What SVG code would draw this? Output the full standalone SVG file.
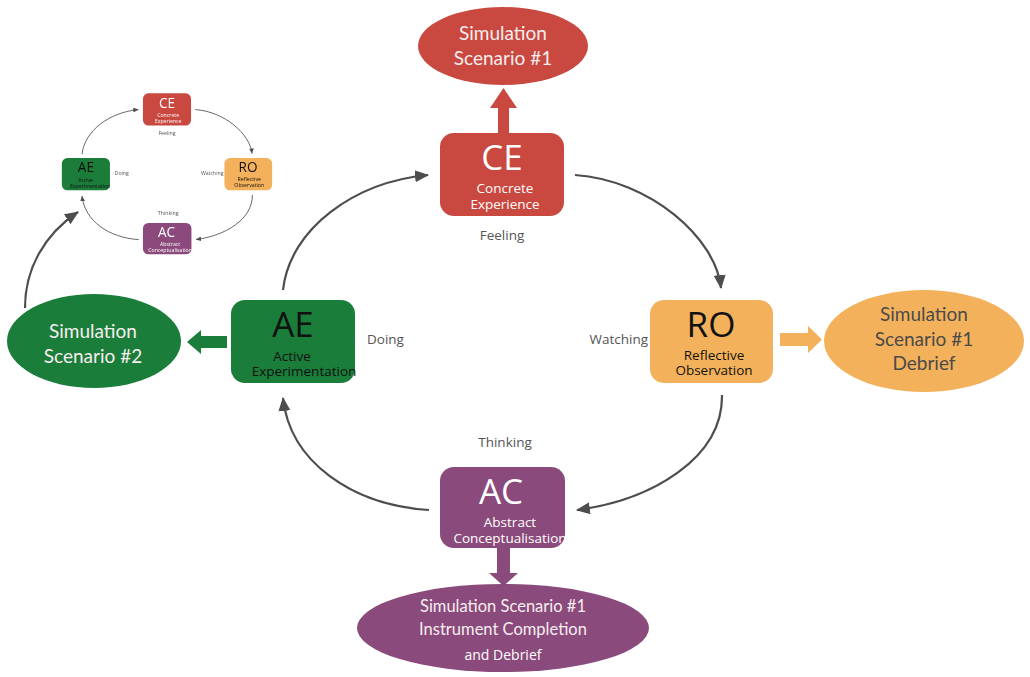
<svg xmlns="http://www.w3.org/2000/svg" xmlns:xlink="http://www.w3.org/1999/xlink" width="1030" height="677" viewBox="0 0 1030 677">
  <style>
    .box { stroke: none; }
    .ce { fill: #c9483f; }
    .ro { fill: #f4b15b; }
    .ae { fill: #1b7d3a; }
    .ac { fill: #8b4a7c; }
    .title { font-family: "Open Sans", "DejaVu Sans", sans-serif; font-size: 35px; text-anchor: middle; }
    .sub { font-family: "Open Sans", "DejaVu Sans", sans-serif; font-size: 13.5px; text-anchor: middle; }
    .light { fill: #ffffff; }
    .dark { fill: #111111; }
    .label { font-family: "Open Sans", "DejaVu Sans", sans-serif; font-size: 13.5px; fill: #555555; }
    .ell { font-family: Lato, "Open Sans", sans-serif; font-size: 19px; text-anchor: middle; }
    .ell-light { fill: #f6eeee; }
    .ell-dark { fill: #4a4a4a; }
    .curve { fill: none; stroke: #4d4d4d; stroke-width: 2.2; marker-end: url(#head); }
  </style>
  <defs>
    <marker id="head" viewBox="0 0 14 12" refX="13" refY="6" markerWidth="14" markerHeight="12" markerUnits="userSpaceOnUse" orient="auto">
      <path d="M0,0 L14,6 L0,12 Z" fill="#4d4d4d"/>
    </marker>
    <filter id="soft" x="-5%" y="-5%" width="110%" height="110%">
      <feGaussianBlur stdDeviation="0.45"/>
    </filter>
  </defs>

  <rect width="1030" height="677" fill="#ffffff"/>

  <!-- Experiential learning cycle -->
  <g id="cycle">
    <g id="connectors">
      <path class="curve" d="M283,290 C290,228 355,182 428,175"/>
      <path class="curve" d="M575,175 C650,180 716,238 721,288"/>
      <path class="curve" d="M722,395 C723,458 652,500 577,510"/>
      <path class="curve" d="M429,510 C352,505 290,462 283,398"/>
    </g>

    <g id="node-ce">
      <rect class="box ce" x="440" y="133" width="124" height="83" rx="14"/>
      <text class="title light" x="502" y="170">CE</text>
      <text class="sub light" x="505" y="193">Concrete</text>
      <text class="sub light" x="505" y="209">Experience</text>
    </g>

    <g id="node-ro">
      <rect class="box ro" x="650" y="300" width="123" height="83" rx="14"/>
      <text class="title dark" x="711" y="337">RO</text>
      <text class="sub dark" x="714" y="360">Reflective</text>
      <text class="sub dark" x="714" y="375">Observation</text>
    </g>

    <g id="node-ae">
      <rect class="box ae" x="231" y="300" width="124" height="83" rx="14"/>
      <text class="title dark" x="293" y="337">AE</text>
      <text class="sub dark" x="292" y="361">Active</text>
      <text class="sub dark" x="304" y="376">Experimentation</text>
    </g>

    <g id="node-ac">
      <rect class="box ac" x="440" y="467" width="125" height="81" rx="14"/>
      <text class="title light" x="501" y="504">AC</text>
      <text class="sub light" x="510" y="527">Abstract</text>
      <text class="sub light" x="510" y="543">Conceptualisation</text>
    </g>

    <g id="stage-labels">
      <text class="label" x="502" y="240" text-anchor="middle">Feeling</text>
      <text class="label" x="648" y="344" text-anchor="end">Watching</text>
      <text class="label" x="367" y="344">Doing</text>
      <text class="label" x="505" y="447" text-anchor="middle">Thinking</text>
    </g>
  </g>

  <!-- Small copy of the cycle, top left -->
  <g id="mini-cycle" filter="url(#soft)">
    <use xlink:href="#cycle" href="#cycle" transform="translate(167,174) scale(0.388) translate(-502,-341)"/>
  </g>

  <!-- Scenario ellipses -->
  <g id="scenario-1">
    <ellipse class="ce" cx="503" cy="46" rx="85" ry="39"/>
    <text class="ell ell-light" x="503" y="40">Simulation</text>
    <text class="ell ell-light" x="503" y="65">Scenario #1</text>
  </g>

  <g id="scenario-1-debrief">
    <ellipse class="ro" cx="924" cy="341" rx="100" ry="51"/>
    <text class="ell ell-dark" x="924" y="321">Simulation</text>
    <text class="ell ell-dark" x="924" y="346">Scenario #1</text>
    <text class="ell ell-dark" x="924" y="370">Debrief</text>
  </g>

  <g id="scenario-2">
    <ellipse class="ae" cx="94" cy="341" rx="87" ry="47"/>
    <text class="ell ell-light" x="93" y="338">Simulation</text>
    <text class="ell ell-light" x="93" y="363">Scenario #2</text>
  </g>

  <g id="scenario-1-instrument">
    <ellipse class="ac" cx="503" cy="628" rx="146" ry="44"/>
    <text class="ell ell-light" x="503" y="612" style="font-size:16.5px">Simulation Scenario #1</text>
    <text class="ell ell-light" x="503" y="635" style="font-size:16.5px">Instrument Completion</text>
    <text class="ell" x="503" y="660" style="font-family:'Open Sans',sans-serif;font-size:14px;fill:#ffffff">and Debrief</text>
  </g>

  <!-- Block arrows from each stage to its scenario -->
  <g id="block-arrows">
    <polygon class="ce" points="498,133 509,133 509,108 517,108 503.5,88 490,108 498,108"/>
    <polygon class="ro" points="780,333 808,333 808,326 822,339.5 808,353 808,346 780,346"/>
    <polygon class="ae" points="227,336 201,336 201,330 187,342 201,354 201,348 227,348"/>
    <polygon class="ac" points="497,548 510,548 510,573 518,573 503.5,586 489,573 497,573"/>
  </g>

  <!-- Link from scenario 2 back into the cycle -->
  <g id="return-link">
    <path class="curve" d="M25,308 C25,268 45,234 78,212"/>
  </g>
</svg>
